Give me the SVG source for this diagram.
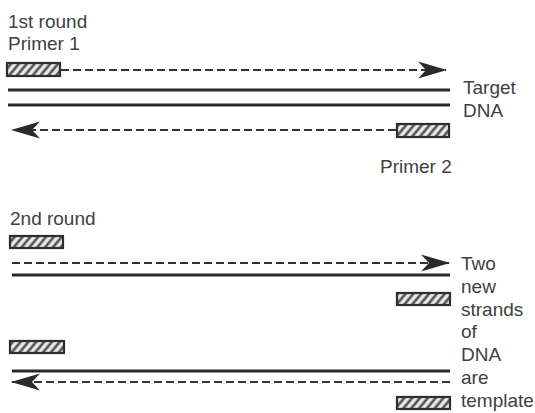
<svg xmlns="http://www.w3.org/2000/svg" width="535" height="413" viewBox="0 0 535 413">
  <style>
    .lbl { font-family: "Liberation Sans", Arial, sans-serif; font-size: 19px; fill: #404040; }
    .strand { stroke: #2a2a2a; stroke-width: 3; fill: none; }
    .new { stroke: #333; stroke-width: 2.2; stroke-dasharray: 8 4; fill: none; }
    .primer { fill: url(#hatch); stroke: #2e2e2e; stroke-width: 2.2; }
  </style>
  <defs>
    <pattern id="hatch" patternUnits="userSpaceOnUse" width="6" height="6" patternTransform="rotate(40)">
      <rect width="6" height="6" fill="#e8e8e8"/>
      <line x1="1.5" y1="0" x2="1.5" y2="6" stroke="#4a4a4a" stroke-width="2.4"/>
    </pattern>
    <marker id="head" viewBox="-30 -10 32 20" refX="0" refY="0" markerWidth="32" markerHeight="20" markerUnits="userSpaceOnUse" orient="auto">
      <path d="M1,0 L-28,-8.5 L-20,0 L-28,8.5 Z" fill="#2a2a2a"/>
    </marker>
  </defs>
  <rect width="535" height="413" fill="#fff"/>

  <!-- first round -->
  <text class="lbl" x="8" y="28">1st round</text>
  <g id="primer1">
    <text class="lbl" x="8" y="50">Primer 1</text>
    <rect class="primer" x="7" y="63" width="53" height="13"/>
  </g>
  <g id="target-dna">
    <line class="strand" x1="8" y1="90" x2="450" y2="90"/>
    <line class="strand" x1="8" y1="105" x2="450" y2="105"/>
    <text class="lbl" x="463" y="94">Target</text>
    <text class="lbl" x="463" y="117">DNA</text>
  </g>
  <g id="primer2">
    <rect class="primer" x="397" y="124" width="52" height="13"/>
    <text class="lbl" x="380" y="173">Primer 2</text>
  </g>

  <!-- second round -->
  <text class="lbl" x="10" y="225">2nd round</text>
  <g id="round2-top">
    <rect class="primer" x="10" y="236" width="53" height="12"/>
    <line class="strand" x1="12" y1="275" x2="450" y2="275"/>
    <rect class="primer" x="397" y="293" width="53" height="12"/>
  </g>
  <g id="round2-bottom">
    <rect class="primer" x="10" y="341" width="54" height="12"/>
    <line class="strand" x1="12" y1="371" x2="450" y2="371"/>
    <rect class="primer" x="397" y="397" width="53" height="12"/>
  </g>
  <g id="round2-label">
    <text class="lbl" x="461" y="270">Two</text>
    <text class="lbl" x="461" y="293">new</text>
    <text class="lbl" x="461" y="316">strands</text>
    <text class="lbl" x="461" y="338">of</text>
    <text class="lbl" x="461" y="361">DNA</text>
    <text class="lbl" x="461" y="384">are</text>
    <text class="lbl" x="461" y="407">template</text>
  </g>

  <!-- extension from primers -->
  <g id="connectors">
    <line class="new" x1="61" y1="70" x2="446" y2="70" marker-end="url(#head)"/>
    <line class="new" x1="396" y1="130" x2="12" y2="130" marker-end="url(#head)"/>
    <line class="new" x1="12" y1="263" x2="449" y2="263" marker-end="url(#head)"/>
    <line class="new" x1="450" y1="382" x2="12" y2="382" marker-end="url(#head)"/>
  </g>
</svg>
